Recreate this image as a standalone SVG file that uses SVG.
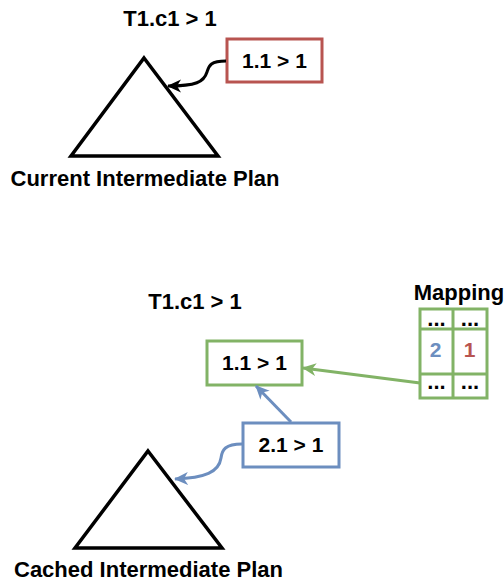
<svg xmlns="http://www.w3.org/2000/svg" width="504" height="584" viewBox="0 0 504 584">
<style>
text{font-family:"Liberation Sans",Arial,sans-serif;font-weight:bold;font-size:22px;fill:#000}
.c{text-anchor:middle}
.b{font-size:21px}
.tri{fill:#fff;stroke:#000;stroke-width:3.5;stroke-linejoin:miter}
.box{fill:#fff;stroke-width:3}
.red{stroke:#b85450}
.green{stroke:#82b366}
.blue{stroke:#6c8ebf}
.edge{fill:none;stroke-width:3}
</style>
<defs>
<marker id="ak" markerUnits="userSpaceOnUse" markerWidth="15" markerHeight="15" refX="13" refY="7.5" orient="auto" viewBox="0 0 15 15"><path d="M0,1 L14,7.5 L0,14 L4,7.5 Z" fill="#000"/></marker>
<marker id="ab" markerUnits="userSpaceOnUse" markerWidth="15" markerHeight="15" refX="13" refY="7.5" orient="auto" viewBox="0 0 15 15"><path d="M0,1 L14,7.5 L0,14 L4,7.5 Z" fill="#6c8ebf"/></marker>
<marker id="ag" markerUnits="userSpaceOnUse" markerWidth="15" markerHeight="15" refX="13" refY="7.5" orient="auto" viewBox="0 0 15 15"><path d="M0,1 L14,7.5 L0,14 L4,7.5 Z" fill="#82b366"/></marker>
</defs>
<rect width="504" height="584" fill="#fff"/>
<g id="current-plan">
<path class="tri" d="M144,58 L218,156 L71,156 Z"/>
<text class="c" x="145" y="186">Current Intermediate Plan</text>
</g>
<g id="current-pred">
<text class="c" x="170" y="26">T1.c1 &gt; 1</text>
</g>
<g id="red-box">
<rect class="box red" x="227" y="39" width="95" height="43"/>
<text class="c b" x="274.5" y="68">1.1 &gt; 1</text>
</g>
<g id="cached-pred">
<text class="c" x="195" y="309">T1.c1 &gt; 1</text>
</g>
<g id="green-box">
<rect class="box green" x="207" y="341" width="95" height="44"/>
<text class="c b" x="254.5" y="370">1.1 &gt; 1</text>
</g>
<g id="blue-box">
<rect class="box blue" x="243" y="423" width="96" height="44"/>
<text class="c b" x="291" y="452">2.1 &gt; 1</text>
</g>
<g id="cached-plan">
<path class="tri" d="M148,451 L222,548 L75,548 Z"/>
<text class="c" x="148.5" y="577">Cached Intermediate Plan</text>
</g>
<g id="mapping">
<text class="c" x="459" y="300">Mapping</text>
<rect class="box green" x="420" y="309" width="67" height="89"/>
<path class="edge green" d="M453,309 V398 M420,329 H487 M420,374 H487"/>
<text class="c" x="436.5" y="326" font-size="20">...</text>
<text class="c" x="470" y="326" font-size="20">...</text>
<text class="c b" x="435.5" y="357" style="fill:#6c8ebf">2</text>
<text class="c b" x="469.5" y="357" style="fill:#b85450">1</text>
<text class="c" x="436.5" y="389" font-size="20">...</text>
<text class="c" x="470" y="389" font-size="20">...</text>
</g>
<g id="connectors">
<path class="edge" stroke="#000" d="M226,61 C210,61 209,66 207,72 C204,82 196,86 168,86" marker-end="url(#ak)"/>
<path class="edge blue" d="M242,444 C225,444 222,450 221,458 C219,472 205,478 175,479" marker-end="url(#ab)"/>
<path class="edge blue" d="M291,422 L256,386" marker-end="url(#ab)"/>
<path class="edge green" d="M420,383 L303,368" marker-end="url(#ag)"/>
</g>
</svg>
